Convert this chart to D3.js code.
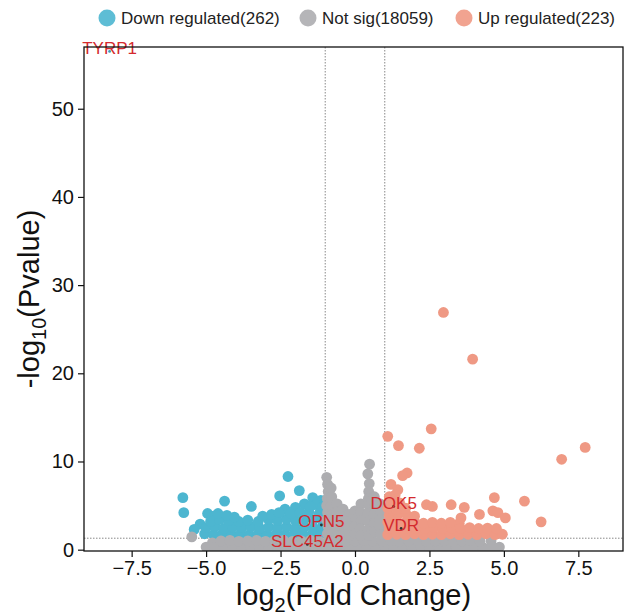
<!DOCTYPE html>
<html>
<head>
<meta charset="utf-8">
<script src="https://cdn.jsdelivr.net/npm/d3@7"></script>
<style>
  body { margin: 0; background: #fff; }
  text { font-family: "Liberation Sans", Arial, sans-serif; }
</style>
</head>
<body>
<div id="volcano"></div>
<script>
// legend groups
const groupNames = ["Down regulated", "Not sig", "Up regulated"];
const groupCounts = [262, 18059, 223];

const xTicks = [-7.5, -5, -2.5, 0, 2.5, 5, 7.5];
const yTicks = [0, 10, 20, 30, 40, 50];

// [log2FC, -log10(p)]
const downPts = [
  [-5.78,5.9],[-5.75,4.2],[-2.25,8.3],[-4.38,5.5],[-3.48,4.9],[-2.53,6.1],[-1.87,6.7],[-1.42,5.9],[-1.15,5.6],
  [-1.3,5.1],[-1.7,5.2],[-2.0,4.8],[-2.35,4.6],[-4.95,4.1],[-4.75,3.8],[-5.2,2.9],[-5.4,2.3],
  [-5.05,1.8],[-4.75,1.7],[-4.45,1.8],[-4.15,1.7],[-3.85,1.75],[-3.55,1.7],[-3.25,1.8],[-2.95,1.7],
  [-2.65,1.75],[-2.35,1.7],[-2.05,1.8],[-1.75,1.7],[-1.45,1.75],[-1.15,1.8],
  [-5.0,2.5],[-4.7,2.6],[-4.4,2.4],[-4.1,2.55],[-3.8,2.5],[-3.5,2.6],[-3.2,2.45],[-2.9,2.55],
  [-2.6,2.5],[-2.3,2.6],[-2.0,2.45],[-1.7,2.55],[-1.4,2.5],[-1.1,2.6],
  [-4.85,3.2],[-4.55,3.4],[-4.25,3.3],[-3.9,3.2],[-3.6,3.35],[-3.25,3.2],[-2.9,3.4],[-2.6,3.3],
  [-2.3,3.5],[-2.0,3.3],[-1.7,3.5],[-1.4,3.4],[-1.1,3.3],
  [-4.6,4.1],[-4.3,3.9],[-4.05,3.7],[-3.1,3.8],[-2.8,4.0],[-2.55,4.2],[-2.15,4.1],[-1.85,4.2],[-1.55,4.3],
  [-1.2,4.1],[-1.1,4.8],[-1.5,4.9]
];

const notSigPts = [
  [-5.48,1.45],[-4.79,0.77],[4.57,1.0],
  [-4.85,-0.1],[-4.55,-0.1],[-4.25,-0.1],[-3.95,-0.1],[-3.65,-0.1],[-3.35,-0.1],[-3.05,-0.1],[-2.75,-0.1],
  [-2.45,-0.1],[-2.15,-0.1],[-1.85,-0.1],[-1.55,-0.1],[-1.25,-0.1],[-0.95,-0.1],[-0.65,-0.1],[-0.35,-0.1],
  [-0.05,-0.1],[0.25,-0.1],[0.55,-0.1],[0.85,-0.1],[1.15,-0.1],[1.45,-0.1],[1.75,-0.1],[2.05,-0.1],
  [2.35,-0.1],[2.65,-0.1],[2.95,-0.1],[3.25,-0.1],[3.55,-0.1],[3.85,-0.1],[4.15,-0.1],[4.45,-0.1],[4.75,-0.1],
  [-5.0,0.3],[-4.7,0.25],[-4.4,0.35],[-4.1,0.3],[-3.8,0.25],[-3.5,0.35],[-3.2,0.3],[-2.9,0.25],
  [-2.6,0.35],[-2.3,0.3],[-2.0,0.25],[-1.7,0.35],[-1.4,0.3],[-1.1,0.25],[-0.8,0.35],[-0.5,0.3],
  [-0.2,0.25],[0.1,0.35],[0.4,0.3],[0.7,0.25],[1.0,0.35],[1.3,0.3],[1.6,0.25],[1.9,0.35],
  [2.2,0.3],[2.5,0.25],[2.8,0.35],[3.1,0.3],[3.4,0.25],[3.7,0.35],[4.0,0.3],[4.3,0.25],[4.6,0.35],[4.85,0.3],
  [-4.5,1.0],[-4.2,1.05],[-3.9,0.95],[-3.6,1.0],[-3.3,1.05],[-3.0,0.95],[-2.7,1.0],[-2.4,1.05],
  [-2.1,0.95],[-1.8,1.0],[-1.5,1.05],[-1.2,0.95],[-0.9,1.0],[-0.6,1.05],[-0.3,0.95],[0.0,1.0],
  [0.3,1.05],[0.6,0.95],[0.9,1.0],[1.2,1.05],[1.5,0.95],[1.8,1.0],[2.1,1.05],[2.4,0.95],
  [2.7,1.0],[3.0,1.05],[3.3,0.95],[3.6,1.0],[3.9,1.05],[4.2,0.95],
  [-0.95,8.2],[-0.92,7.4],[-0.9,6.6],[-0.93,5.8],[-0.95,5.0],[-0.92,4.2],[-0.95,3.4],[-0.9,2.6],[-0.93,1.8],
  [-0.8,7.0],[-0.78,6.0],[-0.8,5.0],[-0.75,4.0],[-0.8,3.0],[-0.78,2.0],
  [-0.6,5.2],[-0.6,4.3],[-0.62,3.4],[-0.58,2.5],[-0.6,1.6],
  [-0.4,4.6],[-0.4,3.7],[-0.42,2.8],[-0.38,1.9],
  [-0.2,4.0],[-0.2,3.2],[-0.22,2.4],[-0.18,1.6],
  [0.0,4.4],[0.02,3.5],[-0.02,2.6],[0.0,1.8],
  [0.2,5.2],[0.2,4.2],[0.22,3.3],[0.18,2.4],[0.2,1.6],
  [0.49,9.7],[0.43,8.6],[0.48,7.5],[0.46,6.6],[0.45,5.8],[0.47,5.0],[0.44,4.1],[0.46,3.2],[0.45,2.3],[0.47,1.6],
  [0.65,6.0],[0.66,5.0],[0.64,4.0],[0.65,3.0],[0.66,2.0],
  [0.85,5.2],[0.86,4.3],[0.84,3.4],[0.85,2.5],[0.86,1.7]
];

const upPts = [
  [2.97,26.9],[3.95,21.6],[2.56,13.7],[1.1,12.85],[1.46,11.8],[2.16,11.5],[7.73,11.6],[6.94,10.25],
  [1.75,8.7],[1.6,8.4],[1.21,7.4],[1.44,6.8],[1.35,6.2],[1.15,6.0],[4.68,5.9],[5.69,5.5],
  [3.23,5.1],[3.67,4.8],[2.4,5.1],[2.6,4.9],[4.18,4.0],[4.63,4.4],[4.8,4.2],[5.05,3.6],
  [6.25,3.16],[3.56,3.6],[3.5,3.0],
  [1.1,1.7],[1.4,1.75],[1.7,1.7],[2.0,1.8],[2.3,1.7],[2.6,1.75],[2.9,1.7],[3.2,1.8],
  [3.5,1.7],[3.8,1.75],[4.1,1.7],[4.4,1.8],[4.7,1.7],[4.95,1.75],
  [1.15,2.4],[1.45,2.5],[1.75,2.4],[2.05,2.45],[2.35,2.4],[2.65,2.5],[2.95,2.4],[3.25,2.45],
  [3.55,2.4],[3.85,2.5],[4.15,2.4],[4.45,2.45],[4.75,2.4],
  [1.1,3.1],[1.4,3.2],[1.7,3.1],[2.0,3.15],[2.3,3.0],[2.6,3.1],[2.9,3.0],[3.2,3.1],
  [1.15,3.9],[1.45,4.0],[1.75,3.9],[2.0,3.8],
  [1.1,4.7],[1.4,4.6],[1.7,4.7],
  [1.2,5.4],[1.5,5.3]
];

// labelled genes
const geneNames = ["TYRP1", "OPN5", "SLC45A2", "DOK5", "VDR"];
const geneFC = [-8.24, -1.13, -1.6, 1.3, 1.55];
const geneP = [56.5, 2.8, 0.6, 4.9, 2.4];

const fcCut = 1;
const pCut = 0.05;

const width = 631;
const height = 616;
const plotLeft = 84, plotRight = 623, plotTop = 47, plotBottom = 551;

const colors = ["#4db6d0", "#adadb0", "#ef9984"];

const svg = d3.select("#volcano")
  .append("svg")
    .attr("width", width)
    .attr("height", height);

const x = d3.scaleLinear().domain([-9.1, 9.0]).range([plotLeft, plotRight]);
const y = d3.scaleLinear().domain([-0.15, 57]).range([plotBottom, plotTop]);

svg.append("clipPath")
    .attr("id", "plotClip")
  .append("rect")
    .attr("x", plotLeft)
    .attr("y", plotTop)
    .attr("width", plotRight - plotLeft)
    .attr("height", plotBottom - plotTop);

const plot = svg.append("g").attr("clip-path", "url(#plotClip)");

/*********************************************/
/*              threshold lines              */
/*********************************************/
const guide = plot.append("g")
  .attr("stroke", "#888")
  .attr("stroke-width", 1)
  .attr("stroke-dasharray", "1.5,1.5");

[-fcCut, fcCut].forEach(v => {
  guide.append("line")
    .attr("x1", x(v)).attr("x2", x(v))
    .attr("y1", plotTop).attr("y2", plotBottom);
});
guide.append("line")
  .attr("x1", plotLeft).attr("x2", plotRight)
  .attr("y1", y(-Math.log10(pCut))).attr("y2", y(-Math.log10(pCut)));

/*********************************************/
/*              points                       */
/*********************************************/
[downPts, notSigPts, upPts].forEach((pts, i) => {
  plot.append("g")
    .selectAll("circle")
    .data(pts)
    .join("circle")
      .attr("cx", d => x(d[0]))
      .attr("cy", d => y(d[1]))
      .attr("r", 5.4)
      .attr("fill", colors[i]);
});

// gene labels
const genes = geneNames.map((n, i) => ({name: n, fc: geneFC[i], p: geneP[i]}));

svg.append("g")
  .selectAll("circle")
  .data(genes)
  .join("circle")
    .attr("cx", d => x(d.fc))
    .attr("cy", d => y(d.p))
    .attr("r", 1.4)
    .attr("fill", d => d.p > 50 ? "#3a9fb8" : "#333");

svg.append("g")
  .selectAll("text")
  .data(genes)
  .join("text")
    .attr("x", d => x(d.fc))
    .attr("y", d => y(d.p) - 3)
    .attr("text-anchor", "middle")
    .attr("dominant-baseline", "central")
    .attr("font-size", 17)
    .attr("fill", "#d42a2e")
    .text(d => d.name);

/*********************************************/
/*              axes & frame                 */
/*********************************************/
svg.append("rect")
  .attr("x", plotLeft)
  .attr("y", plotTop)
  .attr("width", plotRight - plotLeft)
  .attr("height", plotBottom - plotTop)
  .attr("fill", "none")
  .attr("stroke", "#111")
  .attr("stroke-width", 1.3);

const xAxis = svg.append("g")
  .attr("transform", `translate(0, ${plotBottom})`)
  .call(d3.axisBottom(x).tickValues(xTicks).tickFormat(d3.format(".1f")).tickSize(6).tickPadding(4));

const yAxis = svg.append("g")
  .attr("transform", `translate(${plotLeft}, 0)`)
  .call(d3.axisLeft(y).tickValues(yTicks).tickFormat(d3.format("d")).tickSize(6).tickPadding(4));

[xAxis, yAxis].forEach(a => {
  a.select(".domain").remove();
  a.selectAll(".tick line").attr("stroke", "#111").attr("stroke-width", 1.2);
  a.selectAll(".tick text")
    .attr("font-size", 20)
    .attr("font-family", "'Liberation Sans', Arial, sans-serif")
    .attr("fill", "#111");
});

// axis titles
const xTitle = svg.append("text")
  .attr("x", (plotLeft + plotRight) / 2)
  .attr("y", 605)
  .attr("text-anchor", "middle")
  .attr("font-size", 29)
  .attr("fill", "#111");
xTitle.append("tspan").text("log");
xTitle.append("tspan").attr("font-size", 20).attr("dy", 7).text("2");
xTitle.append("tspan").attr("dy", -7).text("(Fold Change)");

const yTitle = svg.append("text")
  .attr("transform", `translate(39, ${(plotTop + plotBottom) / 2}) rotate(-90)`)
  .attr("text-anchor", "middle")
  .attr("font-size", 29)
  .attr("fill", "#111");
yTitle.append("tspan").text("-log");
yTitle.append("tspan").attr("font-size", 20).attr("dy", 7).text("10");
yTitle.append("tspan").attr("dy", -7).text("(Pvalue)");

/*********************************************/
/*              legend                       */
/*********************************************/
const legendX = [107, 308, 464];
const legend = svg.append("g");
groupNames.forEach((name, i) => {
  legend.append("circle")
    .attr("cx", legendX[i])
    .attr("cy", 18)
    .attr("r", 8.5)
    .attr("fill", colors[i])
    .attr("opacity", 0.9);
  legend.append("text")
    .attr("x", legendX[i] + 14)
    .attr("y", 18)
    .attr("dominant-baseline", "central")
    .attr("font-size", 17)
    .attr("fill", "#222")
    .text(`${name}(${groupCounts[i]})`);
});
</script>
</body>
</html>
